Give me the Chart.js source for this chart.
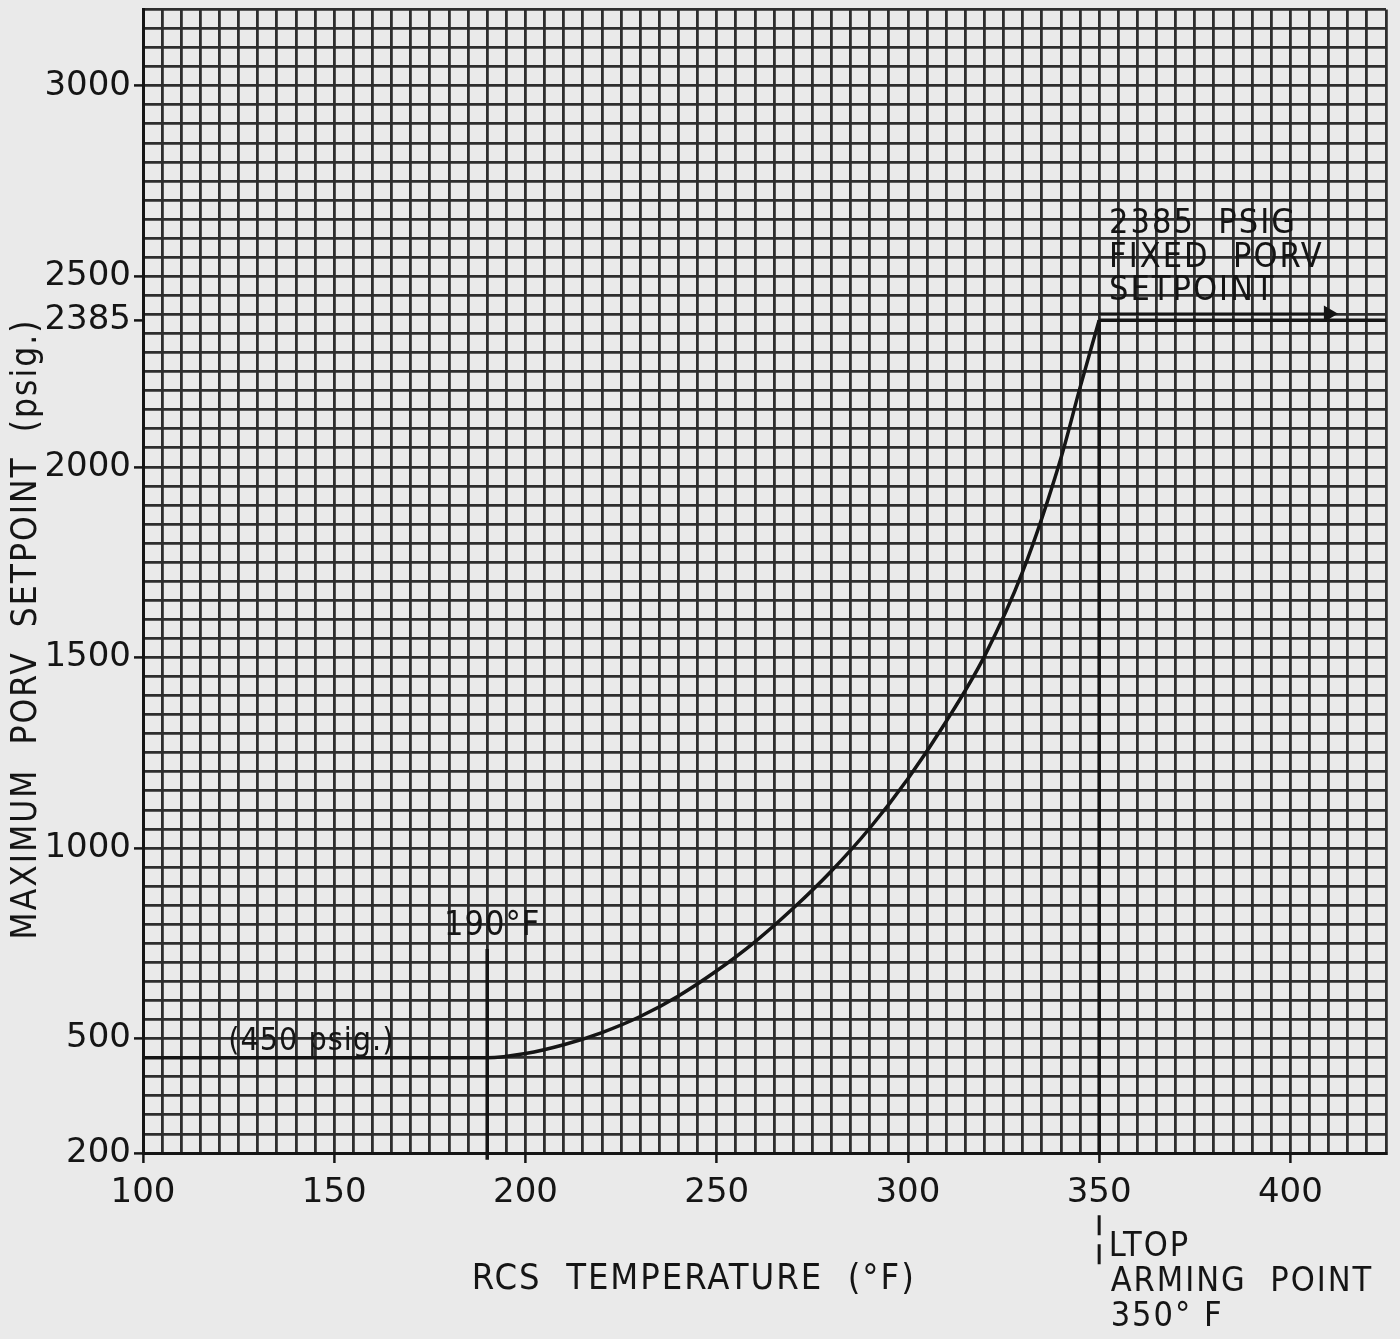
<!DOCTYPE html>
<html>
<head>
<meta charset="utf-8">
<script src="https://cdn.jsdelivr.net/npm/chart.js@4.4.1/dist/chart.umd.min.js"></script>
<style>
  html, body { margin: 0; padding: 0; background: #eaeaea; }
  canvas { display: block; }
</style>
</head>
<body>
<canvas id="porvChart" width="1400" height="1339"></canvas>
<script>
// curve: RCS temperature (F) vs max PORV setpoint (psig)
const tempF    = [100, 190, 200, 210, 220, 230, 240, 250, 260, 270, 280, 290, 300, 310, 320, 330, 340, 345, 350];
const porvPsig = [450, 450, 461, 484, 516, 558, 612, 678, 754, 842, 940, 1052, 1182, 1332, 1503, 1725, 2023, 2208, 2385];

// fixed setpoint above the arming point
const fixedTemps = [350, 425];
const fixedPsig  = [2385, 2385];
const arrowTemps = [350, 410];
const arrowPsig  = [2402, 2402];

// marker lines
const line190Temps = [190, 190];
const line190Psig  = [735, 182];
const line350Temps = [350, 350];
const line350Psig  = [2385, 200];
const dash350Temps = [350, 350];
const dash350Psig  = [37, -108];

const xLabels = [100, 150, 200, 250, 300, 350, 400];
const yLabels = [200, 500, 1000, 1500, 2000, 2385, 2500, 3000];

const ink = '#151515';
const gridInk = '#2e2e2e';
const font = "'DejaVu Sans', sans-serif";
const fontCond = "'DejaVu Sans Condensed', 'DejaVu Sans', sans-serif";

function pts(xs, ys) {
    return xs.map((x, i) => ({ x: x, y: ys[i] }));
}

const textPlugin = {
    id: 'textPlugin',
    afterDraw(chart) {
        const ctx = chart.ctx;
        const xs = chart.scales.x;
        const ys = chart.scales.y;
        const bottom = chart.chartArea.bottom;
        ctx.save();
        ctx.fillStyle = ink;
        ctx.textBaseline = 'middle';

        ctx.font = '32px ' + fontCond;
        ctx.textAlign = 'center';
        ctx.letterSpacing = '1px';
        ctx.fillText('(450 psig.)', xs.getPixelForValue(144), ys.getPixelForValue(492));

        ctx.font = '34px ' + fontCond;
        ctx.fillText('190°F', xs.getPixelForValue(191.3), ys.getPixelForValue(795));

        ctx.textAlign = 'left';
        ctx.letterSpacing = '2px';
        ctx.font = '34px ' + fontCond;
        const lx = xs.getPixelForValue(352.6);
        ctx.fillText('2385  PSIG', lx, ys.getPixelForValue(2636));
        ctx.fillText('FIXED  PORV', lx, ys.getPixelForValue(2548));
        ctx.fillText('SETPOINT', lx, ys.getPixelForValue(2460));

        ctx.font = '34px ' + fontCond;
        ctx.letterSpacing = '2px';
        const ax = xs.getPixelForValue(353);
        ctx.fillText('LTOP', ax - 2, bottom + 94);
        ctx.fillText('ARMING  POINT', ax, bottom + 129);
        ctx.fillText('350° F', ax, bottom + 164);

        ctx.textAlign = 'center';
        ctx.font = '36px ' + fontCond;
        ctx.fillText('RCS  TEMPERATURE  (°F)', xs.getPixelForValue(244), bottom + 127);

        ctx.translate(27, 629);
        ctx.rotate(-Math.PI / 2);
        ctx.font = '35px ' + fontCond;
        ctx.letterSpacing = '2px';
        ctx.fillText('MAXIMUM  PORV  SETPOINT  (psig.)', 0, 0);
        ctx.restore();
    }
};

const ctx = document.getElementById('porvChart').getContext('2d');
const porvChart = new Chart(ctx, {
    type: 'line',
    data: {
        datasets: [
            {
                data: pts(tempF, porvPsig),
                borderColor: ink,
                borderWidth: 3.5,
                pointRadius: 0,
                cubicInterpolationMode: 'monotone'
            },
            {
                data: pts(fixedTemps, fixedPsig),
                borderColor: ink,
                borderWidth: 3.5,
                pointRadius: 0
            },
            {
                data: pts(arrowTemps, arrowPsig),
                borderColor: ink,
                borderWidth: 2.5,
                pointStyle: 'triangle',
                rotation: 90,
                pointRadius: [0, 7],
                pointBackgroundColor: ink,
                pointBorderColor: ink
            },
            {
                data: pts(line190Temps, line190Psig),
                borderColor: ink,
                borderWidth: 3.5,
                pointRadius: 0,
                clip: false
            },
            {
                data: pts(line350Temps, line350Psig),
                borderColor: ink,
                borderWidth: 3.5,
                pointRadius: 0
            },
            {
                data: pts(dash350Temps, dash350Psig),
                borderColor: ink,
                borderWidth: 3,
                borderDash: [20, 9],
                pointRadius: 0,
                clip: false
            }
        ]
    },
    options: {
        responsive: false,
        animation: false,
        devicePixelRatio: 1,
        layout: { padding: { top: 9, right: 14, left: 0, bottom: 0 } },
        plugins: {
            legend: { display: false },
            tooltip: { enabled: false }
        },
        scales: {
            x: {
                type: 'linear',
                min: 100,
                max: 425,
                afterBuildTicks: (scale) => {
                    const t = [];
                    for (let v = 100; v <= 425; v += 5) t.push({ value: v });
                    scale.ticks = t;
                },
                afterFit: (scale) => {
                    scale.height = 186;
                    scale.paddingLeft = 0;
                    scale.paddingRight = 0;
                },
                ticks: {
                    autoSkip: false,
                    maxRotation: 0,
                    padding: 10,
                    color: ink,
                    font: { family: font, size: 34 },
                    callback: (v) => xLabels.includes(v) ? String(v) : ''
                },
                grid: {
                    color: gridInk,
                    lineWidth: 2.8,
                    tickLength: 10,
                    tickWidth: 2.5,
                    tickColor: (c) => (c.tick && xLabels.includes(c.tick.value)) ? ink : 'transparent'
                },
                border: { display: true, color: ink, width: 3 }
            },
            y: {
                type: 'linear',
                min: 200,
                max: 3200,
                afterBuildTicks: (scale) => {
                    const t = [];
                    for (let v = 200; v <= 3200; v += 50) t.push(v);
                    t.push(2385);
                    t.sort((a, b) => a - b);
                    scale.ticks = t.map(v => ({ value: v }));
                },
                afterFit: (scale) => {
                    scale.width = 143;
                    scale.paddingTop = 0;
                    scale.paddingBottom = 0;
                },
                ticks: {
                    autoSkip: false,
                    padding: 3,
                    color: ink,
                    font: { family: font, size: 34 },
                    callback: (v) => yLabels.includes(v) ? String(v) : ''
                },
                grid: {
                    color: (c) => (c.tick && c.tick.value === 2385) ? 'transparent' : gridInk,
                    lineWidth: 2.8,
                    tickLength: 9,
                    tickWidth: 2.5,
                    tickColor: (c) => (c.tick && yLabels.includes(c.tick.value)) ? ink : 'transparent'
                },
                border: { display: true, color: ink, width: 3 }
            }
        }
    },
    plugins: [textPlugin]
});
</script>
</body>
</html>
